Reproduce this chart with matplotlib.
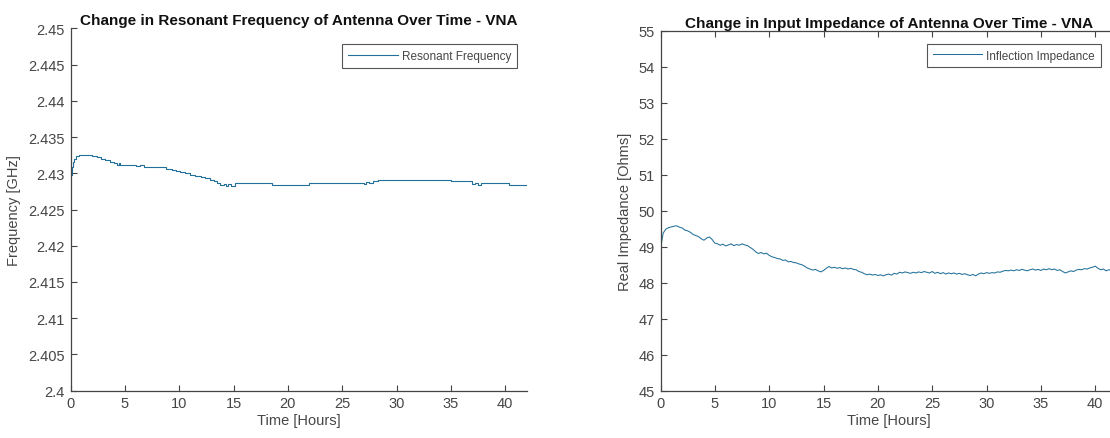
import matplotlib
matplotlib.use("Agg")
import matplotlib.pyplot as plt
from matplotlib.ticker import FuncFormatter, MultipleLocator

plt.rcParams['font.family'] = ['Liberation Sans', 'DejaVu Sans']

# Resonant frequency (GHz): level changes, each value held until the next time
freq_hours = [0.00, 0.10, 0.20, 0.35, 0.55, 0.80, 2.00, 2.40, 2.80, 3.20, 3.60,
              4.00, 4.30, 4.45, 4.60, 5.00, 5.60, 6.00, 6.40, 6.80, 8.30, 8.80,
              9.30, 9.70, 10.10, 10.50, 11.00, 11.50, 12.00, 12.40, 12.80, 13.20,
              13.50, 13.80, 14.10, 14.30, 14.50, 14.80, 15.10, 18.50, 21.90,
              26.70, 27.00, 27.20, 27.50, 27.80, 28.30, 35.00, 35.40, 36.90,
              37.20, 37.50, 37.80, 40.30, 42.00]
freq_ghz = [2.4298, 2.4308, 2.4315, 2.4320, 2.4324, 2.4325, 2.4324, 2.4322,
            2.4320, 2.4318, 2.4316, 2.4314, 2.4312, 2.4314, 2.4312, 2.4311,
            2.4312, 2.4310, 2.4311, 2.4309, 2.4308, 2.4306, 2.4304, 2.4303,
            2.4302, 2.4300, 2.4298, 2.4296, 2.4295, 2.4293, 2.4291, 2.4289,
            2.4286, 2.4284, 2.4285, 2.4283, 2.4285, 2.4283, 2.4286, 2.4284,
            2.4286, 2.4287, 2.4285, 2.4288, 2.4286, 2.4289, 2.4291, 2.4290,
            2.4289, 2.4285, 2.4287, 2.4284, 2.4286, 2.4284, 2.4284]

# Real part of input impedance (Ohms), sampled every quarter hour
imp_hours = [i * 0.25 for i in range(169)]
imp_ohms = [
    48.95, 49.38, 49.49, 49.53, 49.55, 49.57, 49.58, 49.54, 49.52, 49.46,
    49.44, 49.40, 49.34, 49.31, 49.28, 49.22, 49.18, 49.24, 49.27, 49.20,
    49.10, 49.08, 49.04, 49.07, 49.02, 49.05, 49.08, 49.03, 49.06, 49.04,
    49.08, 49.05, 49.03, 48.98, 48.93, 48.86, 48.81, 48.84, 48.80, 48.82,
    48.76, 48.72, 48.70, 48.67, 48.66, 48.62, 48.63, 48.58, 48.59, 48.56,
    48.55, 48.52, 48.50, 48.46, 48.41, 48.38, 48.35, 48.37, 48.33, 48.30,
    48.34, 48.40, 48.45, 48.41, 48.43, 48.40, 48.42, 48.39, 48.41, 48.38,
    48.40, 48.37, 48.36, 48.31, 48.29, 48.25, 48.22, 48.24, 48.21, 48.23,
    48.20, 48.22, 48.19, 48.22, 48.24, 48.21, 48.26, 48.24, 48.29, 48.27,
    48.30, 48.28, 48.26, 48.29, 48.27, 48.30, 48.28, 48.31, 48.29, 48.27,
    48.31, 48.26, 48.29, 48.25, 48.28, 48.24, 48.27, 48.25, 48.27, 48.24,
    48.26, 48.23, 48.25, 48.22, 48.20, 48.23, 48.19, 48.24, 48.27, 48.25,
    48.28, 48.26, 48.28, 48.27, 48.30, 48.29, 48.32, 48.34, 48.33, 48.35,
    48.33, 48.36, 48.34, 48.37, 48.35, 48.33, 48.36, 48.38, 48.35, 48.37,
    48.34, 48.38, 48.36, 48.39, 48.36, 48.38, 48.34, 48.36, 48.31, 48.27,
    48.30, 48.33, 48.31, 48.35, 48.37, 48.36, 48.39, 48.38, 48.41, 48.43,
    48.46, 48.40, 48.36, 48.38, 48.33, 48.36, 48.34, 48.35, 48.33,
]

LINE = '#22709a'
AXC = '#444444'
TXT = '#464646'

W, H = 1110, 439
fig = plt.figure(figsize=(W / 100, H / 100), dpi=100)


def frac(x0, y_top, x1, y_bot):
    return [x0 / W, 1 - y_bot / H, (x1 - x0) / W, (y_bot - y_top) / H]


ax1 = fig.add_axes(frac(70.5, 29.3, 527.0, 391.7))
ax2 = fig.add_axes(frac(660.5, 31.7, 1117.0, 391.7))


def style(ax, box):
    for side in ('left', 'bottom'):
        ax.spines[side].set_color(AXC)
        ax.spines[side].set_linewidth(0.9)
    for side in ('top', 'right'):
        ax.spines[side].set_visible(box)
        ax.spines[side].set_color(AXC)
        ax.spines[side].set_linewidth(0.9)
    ax.tick_params(direction='in', length=4, width=0.8, color=AXC,
                   labelsize=10.5, labelcolor=TXT, pad=4,
                   top=box, right=box)
    ax.xaxis.set_major_locator(MultipleLocator(5))
    ax.set_xlim(0, 42)
    ax.set_xlabel('Time [Hours]', fontsize=10.5, color=TXT, labelpad=2)


ax1.plot(freq_hours, freq_ghz, drawstyle='steps-post', color=LINE, lw=0.8,
         label='Resonant Frequency')
style(ax1, False)
ax1.set_ylim(2.40, 2.45)
ax1.yaxis.set_major_locator(MultipleLocator(0.005))
ax1.yaxis.set_major_formatter(FuncFormatter(lambda v, p: f'{v:.4g}'))
ax1.set_ylabel('Frequency [GHz]', fontsize=10.5, color=TXT, labelpad=5)
ax1.set_title('Change in Resonant Frequency of Antenna Over Time - VNA',
              fontsize=11, fontweight='bold', color='#111111', pad=3)

ax2.plot(imp_hours, imp_ohms, color=LINE, lw=0.75, label='Inflection Impedance')
style(ax2, True)
ax2.set_ylim(45, 55)
ax2.yaxis.set_major_locator(MultipleLocator(1))
ax2.yaxis.set_major_formatter(FuncFormatter(lambda v, p: f'{v:g}'))
ax2.set_ylabel('Real Impedance [Ohms]', fontsize=10.5, color=TXT, labelpad=5)
ax2.set_title('Change in Input Impedance of Antenna Over Time - VNA',
              fontsize=11, fontweight='bold', color='#111111', pad=3)

for ax, anchor in ((ax1, (0.978, 0.957)), (ax2, (0.965, 0.964))):
    leg = ax.legend(loc='upper right', bbox_to_anchor=anchor, borderaxespad=0,
                    fontsize=8.5, frameon=True, fancybox=False,
                    handlelength=4.2, handletextpad=0.35, borderpad=0.5,
                    labelcolor=TXT)
    leg.get_frame().set_edgecolor('#2a2a2a')
    leg.get_frame().set_linewidth(0.8)

fig.savefig('out.png', dpi=100)
